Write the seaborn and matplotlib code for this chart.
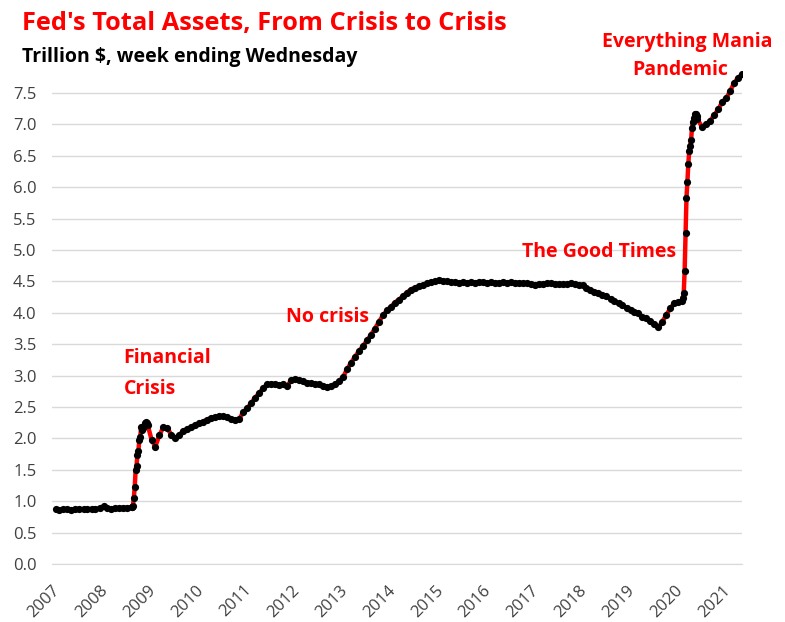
import matplotlib
matplotlib.use("Agg")
import matplotlib.pyplot as plt
import seaborn as sns
import pandas as pd

# ----------------------------------------------------------
# Data: Fed total assets, trillion $
# ----------------------------------------------------------
# monthly values, Jan 2007 - Aug 2008
assets_2007_2008 = [
    0.87, 0.86, 0.87, 0.87, 0.86, 0.87, 0.88, 0.87, 0.87, 0.88, 0.88, 0.89,
    0.92, 0.89, 0.88, 0.89, 0.89, 0.90, 0.90, 0.91,
]
# weekly values, 3 Sep 2008 - 31 Dec 2008
assets_crisis_weeks = [
    0.91, 0.93, 1.05, 1.22, 1.50, 1.57, 1.74, 1.80, 1.97,
    2.02, 2.18, 2.13, 2.17, 2.20, 2.25, 2.26, 2.24, 2.22,
]
# monthly values, Jan 2009 - Feb 2020
assets_2009_2020 = [
    1.98, 1.87, 2.05, 2.18, 2.16, 2.06, 2.01, 2.06, 2.12, 2.15, 2.18, 2.22,
    2.24, 2.27, 2.30, 2.33, 2.34, 2.36, 2.35, 2.34, 2.31, 2.30, 2.31, 2.42,
    2.48, 2.56, 2.65, 2.72, 2.80, 2.86, 2.87, 2.86, 2.85, 2.86, 2.83, 2.93,
    2.94, 2.93, 2.91, 2.89, 2.88, 2.87, 2.86, 2.84, 2.82, 2.83, 2.86, 2.91,
    2.98, 3.10, 3.20, 3.30, 3.39, 3.47, 3.56, 3.65, 3.75, 3.86, 3.96, 4.04,
    4.10, 4.16, 4.21, 4.26, 4.32, 4.37, 4.40, 4.42, 4.44, 4.47, 4.49, 4.50,
    4.52, 4.51, 4.50, 4.49, 4.49, 4.48, 4.49, 4.48, 4.49, 4.48, 4.49, 4.49,
    4.48, 4.49, 4.48, 4.48, 4.49, 4.48, 4.49, 4.48, 4.48, 4.47, 4.47, 4.46,
    4.45, 4.46, 4.46, 4.47, 4.47, 4.46, 4.46, 4.46, 4.46, 4.47, 4.46, 4.45,
    4.44, 4.40, 4.37, 4.33, 4.32, 4.29, 4.26, 4.22, 4.19, 4.15, 4.12, 4.08,
    4.05, 4.02, 3.99, 3.94, 3.91, 3.87, 3.82, 3.77, 3.86, 3.97, 4.07, 4.16,
    4.17, 4.19,
]
# weekly values, 4 Mar 2020 - 24 Jun 2020
assets_pandemic_weeks = [
    4.24, 4.31, 4.67, 5.27, 5.83, 6.08, 6.37, 6.57, 6.66,
    6.75, 6.94, 7.04, 7.10, 7.17, 7.17, 7.13, 7.08,
]
# monthly values, Jul 2020 - May 2021
assets_2020_2021 = [
    6.95, 7.00, 7.06, 7.15, 7.24, 7.36, 7.42, 7.53, 7.66, 7.74, 7.80,
]

year_ticks = list(range(2007, 2022))
y_ticks = [0.0, 0.5, 1.0, 1.5, 2.0, 2.5, 3.0, 3.5, 4.0, 4.5, 5.0, 5.5, 6.0, 6.5, 7.0, 7.5]

dates = (
    list(pd.date_range("2007-01-31", "2008-08-31", freq="ME"))
    + list(pd.date_range("2008-09-03", "2008-12-31", freq="W-WED"))
    + list(pd.date_range("2009-01-31", "2020-02-29", freq="ME"))
    + list(pd.date_range("2020-03-04", "2020-06-24", freq="W-WED"))
    + list(pd.date_range("2020-07-31", "2021-05-31", freq="ME"))
)
values = (assets_2007_2008 + assets_crisis_weeks + assets_2009_2020
          + assets_pandemic_weeks + assets_2020_2021)
df = pd.DataFrame({"date": dates, "assets": values})

# ----------------------------------------------------------
# Plot
# ----------------------------------------------------------
sns.set_style("white")
plt.rcParams["font.family"] = ["Open Sans", "DejaVu Sans"]

fig = plt.figure(figsize=(7.85, 6.22), dpi=100)
ax = fig.add_axes([0.066, 0.093, 0.879, 0.793])

sns.lineplot(data=df, x="date", y="assets", ax=ax, color="#ff0000", linewidth=3.2,
             marker="o", markersize=5.2, markerfacecolor="black",
             markeredgecolor="black", markeredgewidth=0)

ax.set_ylim(0, 7.85)
ax.set_xlim(pd.Timestamp("2007-01-01"), pd.Timestamp("2021-05-28"))
ax.set_yticks(y_ticks)
ax.set_yticklabels([f"{v:.1f}" for v in y_ticks])
ax.set_xticks([pd.Timestamp(f"{y}-01-01") for y in year_ticks])
ax.set_xticklabels([str(y) for y in year_ticks], rotation=45, ha="right",
                   rotation_mode="anchor")
ax.grid(axis="y", color="#d9d9d9", linewidth=1)
ax.set_axisbelow(True)
for side in ["left", "top", "right"]:
    ax.spines[side].set_visible(False)
ax.spines["bottom"].set_color("#d9d9d9")
ax.tick_params(axis="x", length=5, color="#d9d9d9", labelsize=12, labelcolor="#404040", pad=8)
ax.tick_params(axis="y", length=0, labelsize=12, labelcolor="#404040", pad=11)
ax.set_xlabel("")
ax.set_ylabel("")

# annotations
red_kw = dict(color="#ff0000", fontsize=14, fontweight="bold", clip_on=False)
ax.text(pd.Timestamp("2008-07-01"), 3.28, "Financial", va="center", ha="left", **red_kw)
ax.text(pd.Timestamp("2008-07-01"), 2.79, "Crisis", va="center", ha="left", **red_kw)
ax.text(pd.Timestamp("2011-11-20"), 3.93, "No crisis", va="center", ha="left", **red_kw)
ax.text(pd.Timestamp("2016-10-25"), 4.97, "The Good Times", va="center", ha="left", **red_kw)
ax.text(pd.Timestamp("2020-04-08"), 8.31, "Everything Mania", va="center", ha="center", **red_kw)
ax.text(pd.Timestamp("2020-02-16"), 7.86, "Pandemic", va="center", ha="center", **red_kw)

fig.text(0.028, 0.963, "Fed's Total Assets, From Crisis to Crisis", color="#ff0000",
         fontsize=18.3, fontweight="bold", ha="left", va="center")
fig.text(0.028, 0.908, "Trillion $, week ending Wednesday", color="black",
         fontsize=14, fontweight="bold", ha="left", va="center")

fig.savefig("out.png", dpi=100)
